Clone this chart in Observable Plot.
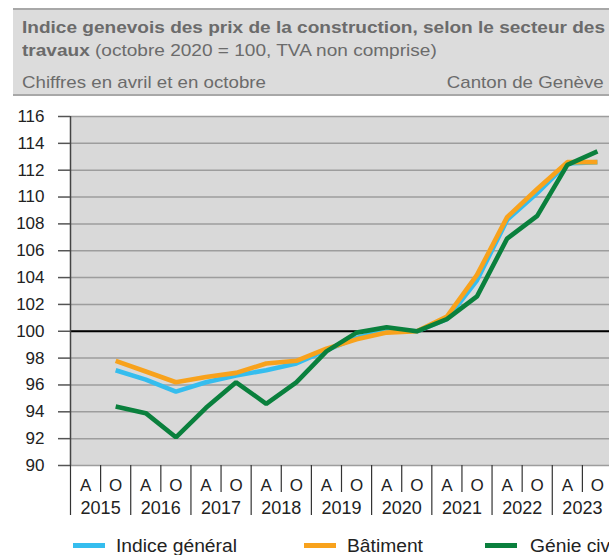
<!DOCTYPE html>
<html>
<head>
<meta charset="utf-8">
<script src="https://cdn.jsdelivr.net/npm/d3@7"></script>
<script src="https://cdn.jsdelivr.net/npm/@observablehq/plot@0.6"></script>
<style>
  html, body { margin: 0; padding: 0; background: #fff; }
  body { width: 609px; height: 555px; overflow: hidden; position: relative;
         font-family: "Liberation Sans", Arial, sans-serif; }
  #hdr { position: absolute; left: 13px; top: 8px; width: 620px; height: 84px;
         background: #dcdcdc; border-top: 2px solid #a8a8a8; border-bottom: 2px solid #a8a8a8; }
  .t { position: absolute; white-space: nowrap; font-size: 17px; line-height: 17px; color: #6b6b6b;
       transform-origin: left center; transform: scaleX(1.1); }
  .t b { font-weight: bold; }
  #chart { position: absolute; left: 0; top: 100px; }
  .lg { position: absolute; white-space: nowrap; font-size: 17.5px; line-height: 17.5px; color: #222;
        transform-origin: left center; transform: scaleX(1.1); }
  .sw { position: absolute; width: 32px; height: 5px; }
</style>
</head>
<body>
<div id="hdr"></div>
<div class="t" style="left:22px;top:18.6px;transform:scaleX(1.12)"><b>Indice genevois des prix de la construction, selon le secteur des</b></div>
<div class="t" style="left:22px;top:41.6px;transform:scaleX(1.12)"><b>travaux</b> (octobre 2020 = 100, TVA non comprise)</div>
<div class="t" style="left:22px;top:73.6px">Chiffres en avril et en octobre</div>
<div class="t" style="right:5px;top:73.6px;transform-origin:right center">Canton de Genève</div>
<div id="chart"></div>
<div id="legend"></div>
<script>
// ---- data ----
const years = [2015, 2016, 2017, 2018, 2019, 2020, 2021, 2022, 2023];
const periods = ["A", "O"];
const yTicks = [90, 92, 94, 96, 98, 100, 102, 104, 106, 108, 110, 112, 114, 116];
const seriesNames = ["Indice général", "Bâtiment", "Génie civil"];
const seriesColors = ["#35bdee", "#f8a21c", "#0a803d"];
// values from October 2015 to October 2023 (April / October)
const indiceGeneral = [97.1, 96.4, 95.5, 96.2, 96.7, 97.1, 97.6, 98.6, 99.5, 100.1, 100.0, 100.9, 103.8, 108.3, 110.3, 112.5, 112.6];
const batiment      = [97.8, 97.0, 96.2, 96.6, 96.9, 97.6, 97.8, 98.7, 99.4, 99.9, 100.0, 101.1, 104.2, 108.5, 110.6, 112.6, 112.6];
const genieCivil    = [94.4, 93.9, 92.1, 94.3, 96.2, 94.6, 96.2, 98.5, 99.9, 100.3, 100.0, 100.9, 102.6, 106.9, 108.6, 112.4, 113.4];
const firstSlot = 1; // data starts at "O" 2015

// ---- derived ----
const slots = years.flatMap(y => periods.map(p => ({year: y, period: p})));
const slotIdx = slots.map((d, i) => i);
const allSeries = [indiceGeneral, batiment, genieCivil];
const rows = allSeries.flatMap((vals, s) =>
  vals.map((v, i) => ({slot: i + firstSlot, value: v, series: seriesNames[s]})));
const yearSeps = years.map((y, i) => i * periods.length - 0.5);
const midSeps = years.map((y, i) => i * periods.length + 0.5);

const font = "Liberation Sans, Arial, sans-serif";
const chart = Plot.plot({
  width: 609,
  height: 430,
  marginTop: 16,
  marginBottom: 65,
  marginLeft: 70,
  marginRight: 0,
  style: {fontFamily: font, fontSize: "17px", color: "#222", background: "transparent"},
  x: {domain: [-0.5, slots.length - 0.5], range: [70, 612], axis: null},
  y: {domain: [yTicks[0], yTicks[yTicks.length - 1]], axis: null},
  color: {domain: seriesNames, range: seriesColors},
  marks: [
    Plot.frame({fill: "#d9d9d9", stroke: "none"}),
    Plot.ruleY(yTicks, {stroke: "#9d9d9d", strokeWidth: 1.5}),
    Plot.ruleY([100], {stroke: "#000", strokeWidth: 2}),
    Plot.ruleX([yearSeps[0]], {y1: yTicks[0], y2: yTicks[yTicks.length - 1], stroke: "#444", strokeWidth: 1.5}),
    Plot.axisY(yTicks, {tickSize: 12, tickPadding: 14, fontSize: 17, stroke: "#555", strokeWidth: 1.5, fill: "#222", label: null}),
    Plot.axisX(yearSeps, {tickSize: 50, tickFormat: () => "", stroke: "#333", strokeWidth: 1.2, label: null}),
    Plot.axisX(midSeps, {tickSize: 27, tickFormat: () => "", stroke: "#333", strokeWidth: 1.2, label: null}),
    Plot.axisX(slotIdx, {tickSize: 0, tickPadding: 13, tickFormat: i => slots[i].period, fontSize: 17, fill: "#222", label: null}),
    Plot.axisX(midSeps, {tickSize: 0, tickPadding: 36, tickFormat: (v, i) => String(years[i]), fontSize: 18, fill: "#222", label: null}),
    ...seriesNames.map((name, s) =>
      Plot.lineY(rows.filter(r => r.series === name), {
        x: "slot", y: "value", stroke: seriesColors[s], strokeWidth: 4.6,
        strokeLinejoin: "miter", strokeLinecap: "butt"
      }))
  ]
});
document.getElementById("chart").appendChild(chart);

// ---- legend ----
const legendLayout = [{sw: 73, tx: 116}, {sw: 304, tx: 347}, {sw: 485, tx: 530}];
const lg = document.getElementById("legend");
seriesNames.forEach((name, i) => {
  const sw = document.createElement("div");
  sw.className = "sw";
  sw.style.left = legendLayout[i].sw + "px";
  sw.style.top = "542.5px";
  sw.style.background = seriesColors[i];
  lg.appendChild(sw);
  const tx = document.createElement("div");
  tx.className = "lg";
  tx.style.left = legendLayout[i].tx + "px";
  tx.style.top = "537.7px";
  tx.textContent = name;
  lg.appendChild(tx);
});
</script>
</body>
</html>
